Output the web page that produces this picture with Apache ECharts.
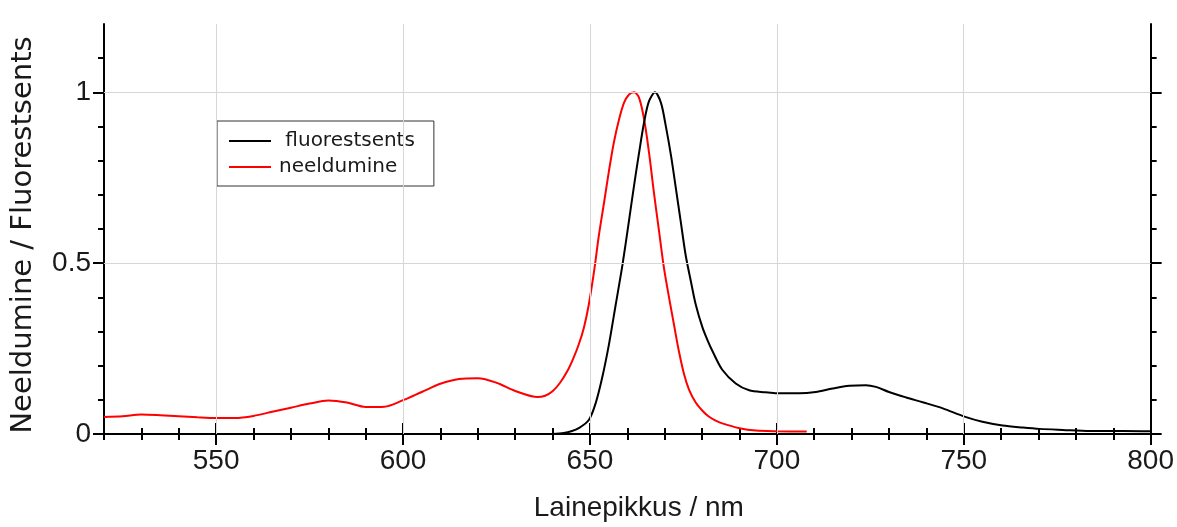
<!DOCTYPE html>
<html>
<head>
<meta charset="utf-8">
<script src="https://cdn.jsdelivr.net/npm/echarts@6/dist/echarts.min.js"></script>
<style>
html,body{margin:0;padding:0;background:#fff;}
#chart{width:1177px;height:527px;}
</style>
</head>
<body>
<div id="chart"></div>
<script>
// ---- data ----
const absWavelength = [520,525,530,535,540,545,550,555,560,565,570,575,580,585,590,595,600,605,610,615,620,625,630,636,638,640,642,644,645.5,647,648.4,649.7,651.1,652.4,653.8,655.1,656.4,657.8,659.1,660.4,661.8,663.1,664.5,665.8,667.1,668.5,669.8,671.2,672.5,673.8,675.2,676.5,678.3,680.1,681.7,683.5,685.4,690,694.4,700,708];
const absValue      = [0.050,0.052,0.057,0.055,0.052,0.049,0.047,0.047,0.053,0.065,0.077,0.089,0.098,0.092,0.079,0.080,0.099,0.123,0.147,0.161,0.163,0.150,0.126,0.108,0.112,0.125,0.150,0.185,0.220,0.262,0.312,0.379,0.476,0.582,0.679,0.771,0.853,0.921,0.969,0.993,1.000,0.985,0.921,0.824,0.708,0.592,0.486,0.397,0.319,0.242,0.174,0.130,0.092,0.068,0.052,0.040,0.031,0.017,0.010,0.008,0.007];

const fluWavelength = [640,643,645,647,649.7,651.5,653.3,655.1,656.9,658.7,660.4,661.8,663.1,664.5,665.8,667.4,669,670.3,671.7,673,674.3,675.6,677,678.3,680.1,681.7,682.8,685.4,689,692.6,697,700,706,710.4,714.9,719.4,723.8,726.5,730,734.6,739,744.4,750.2,755,760.4,765.8,770.3,776.5,783.7,792.6,800];
const fluValue      = [0.000,0.003,0.008,0.017,0.041,0.089,0.166,0.263,0.379,0.495,0.621,0.727,0.820,0.913,0.974,1.000,0.969,0.901,0.814,0.718,0.621,0.524,0.447,0.379,0.312,0.268,0.242,0.188,0.148,0.128,0.122,0.119,0.119,0.123,0.133,0.141,0.143,0.138,0.123,0.107,0.093,0.075,0.051,0.036,0.025,0.019,0.015,0.012,0.009,0.009,0.008];

const seriesNames = [' fluorestsents', 'neeldumine'];
const xMajorTicks = [550, 600, 650, 700, 750, 800];
const xMinorTicks = [520,530,540,560,570,580,590,610,620,630,640,660,670,680,690,710,720,730,740,760,770,780,790];
const yMajorTicks = [0, 0.5, 1];
const yMinorTicks = [0.1,0.2,0.3,0.4,0.6,0.7,0.8,0.9,1.1];
const xGridLines = [550, 600, 650, 700, 750];
const yGridLines = [0.5, 1];
const xTitle = 'Lainepikkus / nm';
const yTitle = 'Neeldumine / Fluorestsents';

// ---- chart ----
const chart = echarts.init(document.getElementById('chart'), null, {renderer: 'canvas'});
const black = '#000000';
const axisLine = {show: true, lineStyle: {color: black, width: 2}};
const noLine = {show: false};
const labelFont = {fontFamily: 'Liberation Sans', fontSize: 28, color: '#1a1a1a'};

function xAx(pos, ticks, len, withLabels, withLine) {
  return {
    type: 'value', position: pos, min: 520, max: 800, gridIndex: 0,
    axisLine: withLine ? axisLine : noLine,
    axisTick: {show: true, inside: false, length: len, customValues: ticks, lineStyle: {color: black, width: 2}},
    axisLabel: withLabels ? Object.assign({show: true, customValues: ticks, margin: 13}, labelFont) : {show: false},
    splitLine: {show: false}
  };
}
function yAx(pos, ticks, len, withLabels, withLine) {
  return {
    type: 'value', position: pos, min: 0, max: 1.2, gridIndex: 0,
    axisLine: withLine ? axisLine : noLine,
    axisTick: {show: true, inside: false, length: len, customValues: ticks, lineStyle: {color: black, width: 2}},
    axisLabel: withLabels ? Object.assign({show: true, customValues: ticks, margin: 13}, labelFont) : {show: false},
    splitLine: {show: false}
  };
}

const xBottomMajor = xAx('bottom', xMajorTicks, 11, true, false);
xBottomMajor.name = xTitle;
xBottomMajor.nameLocation = 'middle';
xBottomMajor.nameGap = 60;
xBottomMajor.nameTextStyle = {fontFamily: 'Liberation Sans', fontSize: 28, color: '#1a1a1a', lineHeight: 28, padding: [0, 0, 0, 23]};

const yLeftMajor = yAx('left', yMajorTicks, 11, true, false);
yLeftMajor.name = yTitle;
yLeftMajor.nameLocation = 'middle';
yLeftMajor.nameGap = 66;
yLeftMajor.nameTextStyle = {fontFamily: 'DejaVu Sans', fontSize: 29, color: '#1a1a1a', lineHeight: 29, padding: [0, 12, 0, 0]};

const option = {
  backgroundColor: '#ffffff',
  animation: false,
  grid: {left: 104, top: 24, right: 26, bottom: 88, containLabel: false},
  legend: {
    orient: 'vertical', left: 217, top: 121,
    data: seriesNames,
    icon: 'rect', itemWidth: 42, itemHeight: 2, itemGap: 6,
    padding: [10, 19, 9, 12],
    borderColor: '#333333', borderWidth: 1, backgroundColor: 'transparent',
    textStyle: {fontFamily: 'DejaVu Sans', fontSize: 20, color: '#1a1a1a', lineHeight: 20, padding: [0, 0, 0, 3]},
    itemStyle: {borderWidth: 0},
    selectedMode: false
  },
  xAxis: [
    xAx('bottom', xMinorTicks, 6, false, true),
    xBottomMajor,
    xAx('top', xMinorTicks, 6, false, true),
    xAx('top', xMajorTicks, 11, false, false)
  ],
  yAxis: [
    yAx('left', yMinorTicks, 6, false, true),
    yLeftMajor,
    yAx('right', yMinorTicks, 6, false, true),
    yAx('right', yMajorTicks, 11, false, false)
  ],
  series: [
    {
      name: 'grid', type: 'line', data: [], z: 1, silent: true,
      markLine: {
        silent: true, symbol: 'none', animation: false,
        label: {show: false},
        lineStyle: {color: '#d6d6d6', width: 1, type: 'solid'},
        emphasis: {disabled: true},
        data: xGridLines.map(v => ({xAxis: v})).concat(yGridLines.map(v => ({yAxis: v})))
      }
    },
    {
      name: seriesNames[1], type: 'line', xAxisIndex: 0, yAxisIndex: 0,
      data: absWavelength.map((w, i) => [w, absValue[i]]),
      showSymbol: false, symbol: 'none', smooth: 0.3,
      lineStyle: {color: '#ff0000', width: 2}, itemStyle: {color: '#ff0000'}, z: 3
    },
    {
      name: seriesNames[0], type: 'line', xAxisIndex: 0, yAxisIndex: 0,
      data: fluWavelength.map((w, i) => [w, fluValue[i]]),
      showSymbol: false, symbol: 'none', smooth: 0.3,
      lineStyle: {color: '#000000', width: 2}, itemStyle: {color: '#000000'}, z: 4
    }
  ]
};
chart.setOption(option);
</script>
</body>
</html>
